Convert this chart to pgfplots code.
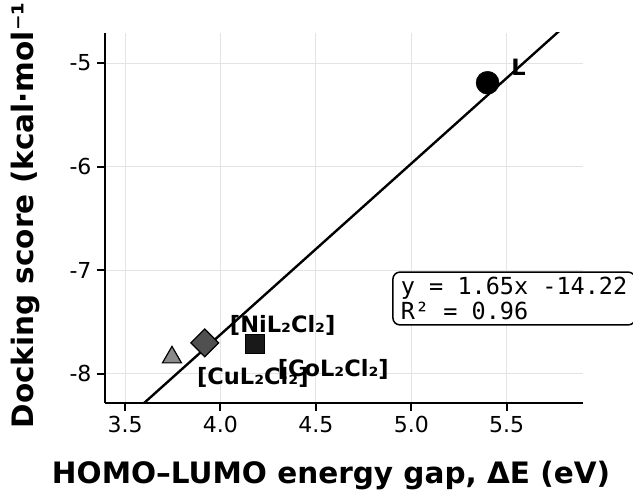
\documentclass[border=0pt]{standalone}
\usepackage{fontspec}
\setmainfont{DejaVu Sans}
\setmonofont{DejaVu Sans Mono}
\usepackage{pgfplots}
\pgfplotsset{compat=1.18}

\definecolor{gridgray}{HTML}{E4E4E4}
\definecolor{trigray}{HTML}{8A8A8A}
\definecolor{diagray}{HTML}{505050}

\begin{document}
\begin{tikzpicture}
\begin{axis}[
    at={(0pt,0pt)}, anchor=south west,
    scale only axis,
    width=478pt, height=370pt,
    xmin=3.395, xmax=5.90,
    ymin=-8.28, ymax=-4.71,
    axis x line*=bottom, axis y line*=left,
    axis line style={line width=2.4pt},
    tick align=outside,
    major tick length=8pt,
    tick style={line width=2pt, black},
    xtick={3.5,4.0,4.5,5.0,5.5},
    xticklabels={3.5,4.0,4.5,5.0,5.5},
    ytick={-8,-7,-6,-5},
    yticklabels={-8,-7,-6,-5},
    ticklabel style={font=\fontsize{22}{26}\selectfont},
    xticklabel style={yshift=-2pt},
    yticklabel style={xshift=-2pt},
    grid=major,
    major grid style={gridgray, line width=1pt},
    xlabel={HOMO–LUMO energy gap, ΔE (eV)},
    ylabel={Docking score (kcal·mol⁻¹)},
    label style={font=\fontsize{29.5}{34}\selectfont\bfseries},
    xlabel style={at={(axis description cs:0.473,-0.195)}, anchor=center},
    ylabel style={at={(axis description cs:-0.167,0.525)}, anchor=center},
    clip mode=individual,
]
% regression line y = 1.65x - 14.22
\addplot[black, line width=2.4pt] coordinates {(3.50,-8.445) (5.90,-4.485)};
% L
\addplot[only marks, mark=*, mark size=11.5pt, mark options={fill=black, draw=black}] coordinates {(5.40,-5.19)};
% [CuL2Cl2]
\addplot[only marks, mark=triangle*, mark size=11pt, mark options={fill=trigray, draw=black, line width=1.2pt}] coordinates {(3.746,-7.84)};
% [NiL2Cl2]
\addplot[only marks, mark=square*, mark size=9.8pt, mark options={rotate=45, fill=diagray, draw=black, line width=1.2pt}] coordinates {(3.918,-7.70)};
% [CoL2Cl2]
\addplot[only marks, mark=square*, mark size=9.5pt, mark options={fill=black!90, draw=black}] coordinates {(4.18,-7.71)};

\node[anchor=west, font=\fontsize{22.5}{26}\selectfont\bfseries, inner sep=0pt] at (axis cs:5.524,-5.04) {L};
\node[anchor=west, font=\fontsize{22.5}{26}\selectfont\bfseries, inner sep=0pt] at (axis cs:4.049,-7.53) {[NiL₂Cl₂]};
\node[anchor=west, font=\fontsize{22.5}{26}\selectfont\bfseries, inner sep=0pt] at (axis cs:4.30,-7.96) {[CoL₂Cl₂]};
\node[anchor=west, font=\fontsize{22.5}{26}\selectfont\bfseries, inner sep=0pt] at (axis cs:3.877,-8.03) {[CuL₂Cl₂]};

\node[anchor=north west, draw=black, line width=1.5pt, fill=white, rounded corners=7pt,
      inner xsep=8pt, inner ysep=5pt, align=left,
      font=\ttfamily\fontsize{23.5}{25}\selectfont] at (axis cs:4.90,-7.01)
      {y = 1.65x -14.22\\R² = 0.96};
\end{axis}
\pgfresetboundingbox
\useasboundingbox (-105pt,-91pt) rectangle (528pt,403pt);
\end{tikzpicture}
\end{document}
